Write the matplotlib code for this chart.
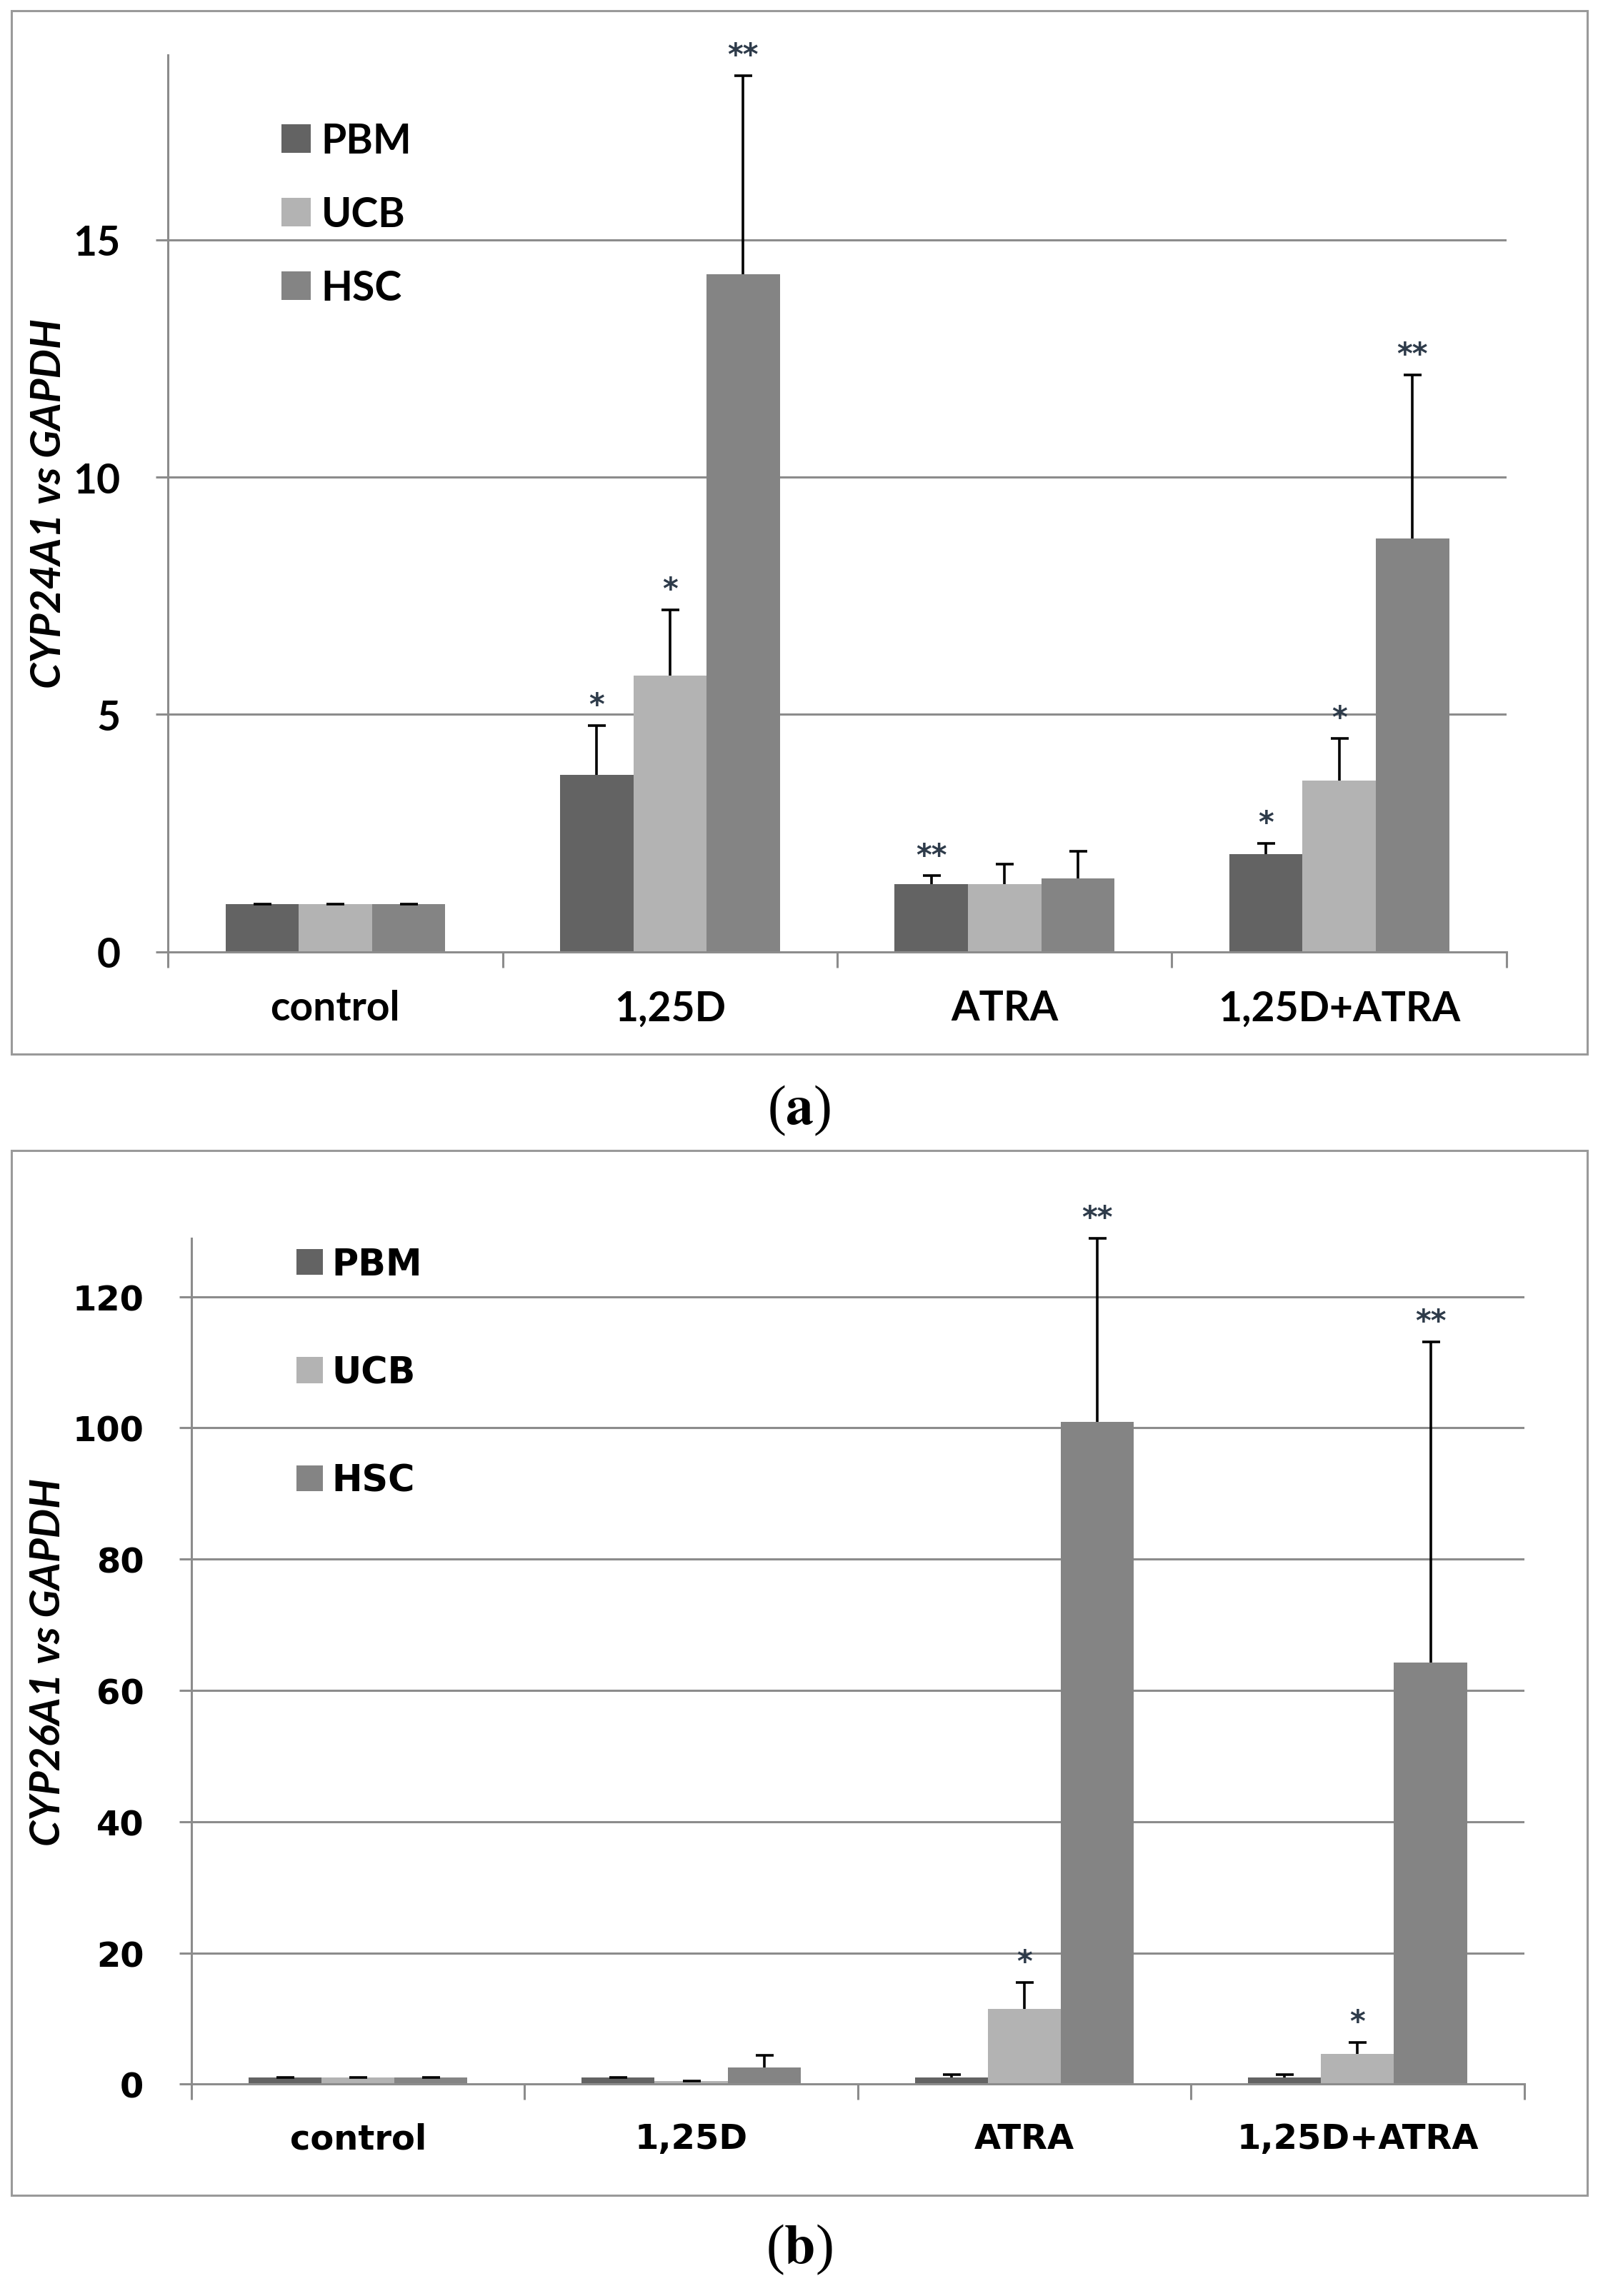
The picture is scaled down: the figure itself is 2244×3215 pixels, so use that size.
import matplotlib
matplotlib.use("Agg")
import matplotlib.pyplot as plt
import numpy as np
from matplotlib.patches import Rectangle

plt.rcParams["mathtext.fontset"] = "stix"

CATEGORIES = ["control", "1,25D", "ATRA", "1,25D+ATRA"]
GROUPS = ["PBM", "UCB", "HSC"]
COLORS = {"PBM": "#636363", "UCB": "#b3b3b3", "HSC": "#848484"}

# panel (a): CYP24A1
A_MEAN = {
    "PBM": [1.0, 3.72, 1.42, 2.06],
    "UCB": [1.0, 5.82, 1.42, 3.60],
    "HSC": [1.0, 14.28, 1.54, 8.71],
}
A_ERR = {
    "PBM": [0.0, 1.05, 0.18, 0.22],
    "UCB": [0.0, 1.38, 0.43, 0.89],
    "HSC": [0.0, 4.18, 0.58, 3.44],
}
A_STARS = {
    "PBM": ["", "*", "**", "*"],
    "UCB": ["", "*", "", "*"],
    "HSC": ["", "**", "", "**"],
}

# panel (b): CYP26A1
B_MEAN = {
    "PBM": [1.0, 1.0, 1.0, 1.0],
    "UCB": [1.0, 0.5, 11.5, 4.6],
    "HSC": [1.0, 2.6, 100.9, 64.2],
}
B_ERR = {
    "PBM": [0.0, 0.0, 0.5, 0.5],
    "UCB": [0.0, 0.0, 4.0, 1.8],
    "HSC": [0.0, 1.8, 28.0, 48.9],
}
B_STARS = {
    "PBM": ["", "", "", ""],
    "UCB": ["", "", "*", "*"],
    "HSC": ["", "", "**", "**"],
}

GRID = "#8c8c8c"
STAR_COLOR = "#2e3b4a"
BAR_W = 0.219


def draw_panel(ax, means, errs, stars, ylim, yticks, ylabel, font, tick_fs,
               lab_fs, leg_fs, leg_anchor, labelspacing, ylab_x):
    x = np.arange(len(CATEGORIES))
    for i, g in enumerate(GROUPS):
        pos = x + (i - 1) * BAR_W
        ax.bar(pos, means[g], width=BAR_W, color=COLORS[g], label=g, zorder=2)
        err = np.asarray(errs[g])
        _, caps, bars = ax.errorbar(pos, means[g], yerr=[np.zeros_like(err), err],
                                    fmt="none", ecolor="black", elinewidth=1.3,
                                    capsize=4.5, capthick=1.3, zorder=3)
        caps[0].set_visible(False)
        for c in list(caps) + list(bars):
            c.set_clip_on(False)
        for p, m, e, s in zip(pos, means[g], err, stars[g]):
            if s:
                ax.annotate(s, (p, m + e), xytext=(0, 10), textcoords="offset points",
                            ha="center", va="center", fontsize=15, color=STAR_COLOR,
                            family="DejaVu Sans", fontweight="bold",
                            annotation_clip=False)

    ax.set_xlim(-0.5, len(CATEGORIES) - 0.5)
    ax.set_ylim(*ylim)
    ax.set_yticks(yticks)
    ax.set_xticks(x)
    ax.set_xticks(np.arange(len(CATEGORIES) + 1) - 0.5, minor=True)
    ax.set_xticklabels(CATEGORIES, fontsize=tick_fs, family=font, fontweight="bold")
    for lab in ax.get_yticklabels():
        lab.set_fontsize(tick_fs)
        lab.set_family(font)
        lab.set_fontweight("bold")
    ax.tick_params(axis="x", which="major", length=0, pad=19)
    ax.tick_params(axis="x", which="minor", length=8, width=1.1, color=GRID)
    ax.tick_params(axis="y", length=6, width=1.1, color=GRID, pad=18)

    for sp in ["top", "right"]:
        ax.spines[sp].set_visible(False)
    for sp in ["left", "bottom"]:
        ax.spines[sp].set_color(GRID)
        ax.spines[sp].set_linewidth(1.1)
    for t in yticks[1:]:
        ax.axhline(t, color=GRID, linewidth=1.1, zorder=1)

    ax.set_ylabel(ylabel, fontsize=lab_fs, family="Lato", fontweight="bold",
                  fontstyle="italic")
    ax.yaxis.set_label_coords(ylab_x, 0.5)

    leg = ax.legend(loc="upper left", bbox_to_anchor=leg_anchor, frameon=False,
                    prop={"family": font, "weight": "bold", "size": leg_fs},
                    handlelength=0.72, handleheight=0.72, handletextpad=0.25,
                    labelspacing=labelspacing, borderpad=0, borderaxespad=0)
    return leg


fig = plt.figure(figsize=(11.22, 16.08), dpi=200)

ax_a = fig.add_axes([0.1048, 0.5853, 0.8350, 0.3906])
draw_panel(ax_a, A_MEAN, A_ERR, A_STARS, (0, 18.9), [0, 5, 10, 15],
           r"CYP24A1 vs GAPDH", "Lato", 20.5, 21, 20.5, (0.085, 0.925), 0.88, -0.075)

ax_b = fig.add_axes([0.1194, 0.0922, 0.8314, 0.3684])
draw_panel(ax_b, B_MEAN, B_ERR, B_STARS, (0, 128.9), [0, 20, 40, 60, 80, 100, 120],
           r"CYP26A1 vs GAPDH", "DejaVu Sans", 17.3, 21, 18.3, (0.079, 0.99), 2.0, -0.093)

for y0, y1 in [(0.5407, 0.9949), (0.0439, 0.4987)]:
    fig.add_artist(Rectangle((0.0073, y0), 0.9827, y1 - y0, transform=fig.transFigure,
                             fill=False, edgecolor="#9a9a9a", linewidth=1.1))

fig.text(0.4985, 0.5165, r"($\mathbf{a}$)", ha="center", va="center",
         fontsize=28, family="Liberation Serif")
fig.text(0.4985, 0.0205, r"($\mathbf{b}$)", ha="center", va="center",
         fontsize=28, family="Liberation Serif")

fig.savefig("out.png", dpi=200)
